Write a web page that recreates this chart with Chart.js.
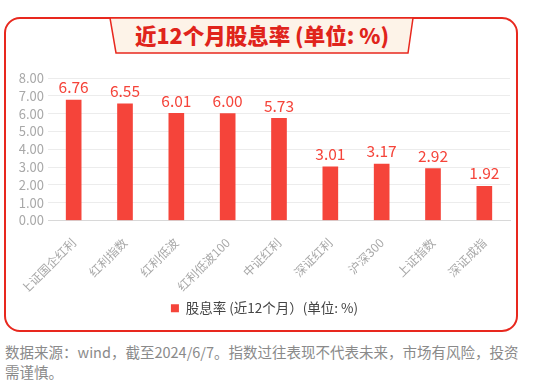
<!DOCTYPE html>
<html>
<head>
<meta charset="utf-8">
<script src="https://cdn.jsdelivr.net/npm/chart.js@4.4.1/dist/chart.umd.min.js"></script>
<style>
    body { margin: 0; background: #fff; font-family: "Noto Sans CJK SC", "Noto Sans", sans-serif; }
    #frame {
        position: absolute; left: 4px; top: 17px; width: 514px; height: 315px;
        border: 2px solid #e8281e; border-radius: 16px; box-sizing: border-box;
    }
    #banner { position: absolute; left: 0; top: 0; }
    #title {
        position: absolute; left: 0; top: 20px; width: 524px; text-align: center;
        font-size: 21.5px; font-weight: 900; color: #e0241b; line-height: 30px;
    }
    #chartBox { position: absolute; left: 0; top: 64px; width: 535px; height: 263px; }
    #note {
        position: absolute; left: 5px; top: 342px; width: 522px;
        font-size: 14.5px; line-height: 20px; color: #8a8a8a;
    }
</style>
</head>
<body>
<div id="frame"></div>
<svg id="banner" width="535" height="60">
    <polygon points="110,18 413,18 408,53 116,53" fill="#fdf3e8" stroke="#e8281e" stroke-width="1.5"/>
</svg>
<div id="title">近12个月股息率 (单位: %)</div>
<div id="chartBox"><canvas id="yieldChart"></canvas></div>
<div id="note">数据来源：wind，截至2024/6/7。指数过往表现不代表未来，市场有风险，投资需谨慎。</div>

<script>
const categories = ["上证国企红利", "红利指数", "红利低波", "红利低波100", "中证红利", "深证红利", "沪深300", "上证指数", "深证成指"];
const yieldValues = [6.76, 6.55, 6.01, 6.00, 5.73, 3.01, 3.17, 2.92, 1.92];
const seriesLabel = "股息率 (近12个月）(单位: %)";
const barColor = "#f5443a";

// draw value labels above each bar
const valueLabels = {
    id: "valueLabels",
    afterDatasetsDraw(chart) {
        const ctx = chart.ctx;
        const meta = chart.getDatasetMeta(0);
        ctx.save();
        ctx.fillStyle = barColor;
        ctx.font = "15.5px 'Noto Sans CJK SC', sans-serif";
        ctx.textAlign = "center";
        ctx.textBaseline = "bottom";
        meta.data.forEach((bar, i) => {
            ctx.fillText(yieldValues[i].toFixed(2), bar.x, bar.y - 5);
        });
        ctx.restore();
    }
};

const ctx = document.getElementById("yieldChart").getContext("2d");
new Chart(ctx, {
    type: "bar",
    data: {
        labels: categories,
        datasets: [{
            label: seriesLabel,
            data: yieldValues,
            backgroundColor: barColor,
            barThickness: 15
        }]
    },
    options: {
        responsive: true,
        maintainAspectRatio: false,
        animation: false,
        layout: { padding: { left: 19, right: 25, top: 14, bottom: 2 } },
        scales: {
            y: {
                min: 0,
                max: 8,
                ticks: {
                    stepSize: 1,
                    autoSkip: false,
                    color: "#a8a8a8",
                    font: { size: 13, family: "'Noto Sans CJK SC', sans-serif" },
                    padding: 4,
                    callback: v => v.toFixed(2)
                },
                grid: { color: "#ececec", drawTicks: false },
                border: { display: false },
                afterFit(scale) { scale.width = 29; }
            },
            x: {
                ticks: {
                    color: "#a8a8a8",
                    font: { size: 12, family: "'Noto Sans CJK SC', sans-serif" },
                    minRotation: 45,
                    maxRotation: 45,
                    padding: 7
                },
                grid: { display: false },
                border: { color: "#d8d8d8" },
                afterFit(scale) { scale.height = 71; }
            }
        },
        plugins: {
            legend: {
                position: "bottom",
                labels: {
                    color: "#444",
                    boxWidth: 8,
                    boxHeight: 8,
                    padding: 10,
                    font: { size: 13.5, family: "'Noto Sans CJK SC', sans-serif" }
                }
            },
            tooltip: { enabled: false }
        }
    },
    plugins: [valueLabels]
});
</script>
</body>
</html>
